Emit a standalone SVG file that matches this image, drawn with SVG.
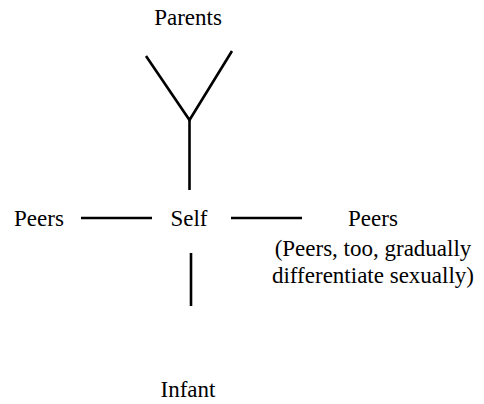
<svg xmlns="http://www.w3.org/2000/svg" width="484" height="404" viewBox="0 0 484 404" font-family="Liberation Serif, serif">
<style>
text{font-size:23px;fill:#000;text-anchor:middle}
.c line,.c polyline{stroke:#000;stroke-width:2.6;fill:none}
</style>
<rect width="484" height="404" fill="#fff"/>
<g class="c" id="connectors">
<polyline points="146,56 189.5,120 232,51"/>
<line x1="189.5" y1="120" x2="189.5" y2="190"/>
<line x1="81" y1="218" x2="152" y2="218"/>
<line x1="231" y1="218" x2="302" y2="218"/>
<line x1="191" y1="253" x2="191" y2="306"/>
</g>
<g id="parents"><text x="188" y="25">Parents</text></g>
<g id="peers-left"><text x="39" y="226">Peers</text></g>
<g id="self"><text x="189" y="226">Self</text></g>
<g id="peers-right"><text x="373" y="226">Peers</text><text x="373" y="256">(Peers, too, gradually</text><text x="373" y="283">differentiate sexually)</text></g>
<g id="infant"><text x="188" y="397">Infant</text></g>
</svg>
